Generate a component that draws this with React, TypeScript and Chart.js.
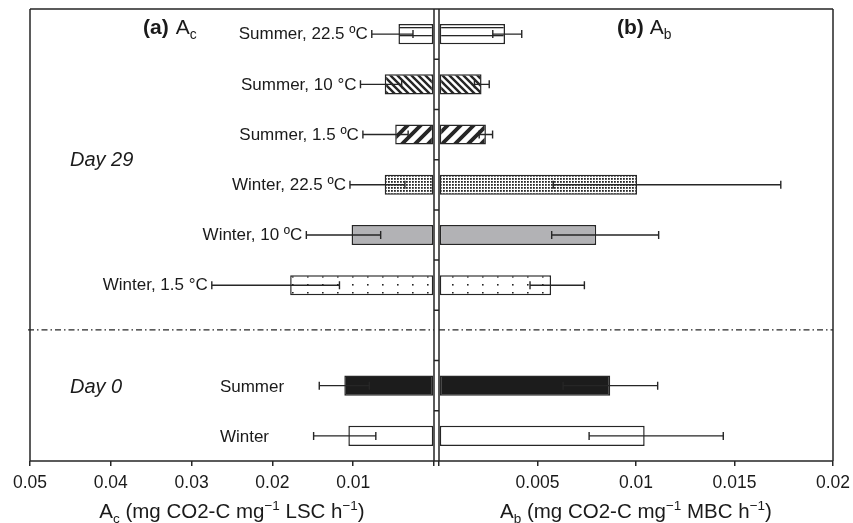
import React, { useEffect, useRef } from 'react';
import { Chart, registerables } from 'chart.js';

Chart.register(...registerables);

// ---------------- data ----------------
const categories = [
  'Summer, 22.5 ºC',
  'Summer, 10 °C',
  'Summer, 1.5 ºC',
  'Winter, 22.5 ºC',
  'Winter, 10 ºC',
  'Winter, 1.5 °C',
  '',
  'Summer',
  'Winter',
];
const dayLabels = ['Day 29', 'Day 0'];

// (a) Ac, mg CO2-C mg-1 LSC h-1
const acValues = [0.0044, 0.0061, 0.0048, 0.0061, 0.0102, 0.0178, null, 0.0111, 0.0106];
const acErrLow = [0.0026, 0.004, 0.0032, 0.0036, 0.0066, 0.0117, null, 0.008, 0.0072];
const acErrHigh = [0.0077, 0.0091, 0.0088, 0.0104, 0.0158, 0.0275, null, 0.0142, 0.0149];

// (b) Ab, mg CO2-C mg-1 MBC h-1
const abValues = [0.00335, 0.00216, 0.00238, 0.01005, 0.00798, 0.00569, null, 0.00869, 0.01044];
const abErrLow = [0.00273, 0.0018, 0.00204, 0.0058, 0.00572, 0.00462, null, 0.0063, 0.00762];
const abErrHigh = [0.0042, 0.00255, 0.00272, 0.01735, 0.01115, 0.00738, null, 0.0111, 0.01443];

const acTicks = [0, 0.01, 0.02, 0.03, 0.04, 0.05];
const acTickLabels = ['', '0.01', '0.02', '0.03', '0.04', '0.05'];
const abTicks = [0, 0.005, 0.01, 0.015, 0.02];
const abTickLabels = ['', '0.005', '0.01', '0.015', '0.02'];

// ---------------- styles ----------------
const FONT = "'Liberation Sans', Arial, Helvetica, sans-serif";
const INK = '#262626';
const TEXT = '#1a1a1a';
const fillKinds = ['hlines', 'bdiag', 'fdiag', 'densedots', 'gray', 'sparsedots', 'white', 'black', 'white'];

function makeFill(kind: string): CanvasPattern | string {
  if (kind === 'gray') return '#b2b2b5';
  if (kind === 'black') return '#1c1c1c';
  if (kind === 'white') return '#ffffff';
  const c = document.createElement('canvas');
  const g = c.getContext('2d')!;
  const setSize = (w: number, h: number) => {
    c.width = w;
    c.height = h;
    g.fillStyle = '#fff';
    g.fillRect(0, 0, w, h);
  };
  if (kind === 'hlines') {
    setSize(8, 8);
    g.fillStyle = INK;
    g.fillRect(0, 3, 8, 1.3);
  } else if (kind === 'bdiag') {
    setSize(7, 7);
    g.strokeStyle = INK;
    g.lineWidth = 2.4;
    g.beginPath();
    g.moveTo(-1, -1); g.lineTo(8, 8);
    g.moveTo(-1, 6); g.lineTo(1, 8);
    g.moveTo(6, -1); g.lineTo(8, 1);
    g.stroke();
  } else if (kind === 'fdiag') {
    setSize(13, 13);
    g.strokeStyle = INK;
    g.lineWidth = 3.8;
    g.beginPath();
    g.moveTo(-1, 14); g.lineTo(14, -1);
    g.moveTo(-2, 2); g.lineTo(2, -2);
    g.moveTo(11, 15); g.lineTo(15, 11);
    g.stroke();
  } else if (kind === 'densedots') {
    setSize(3, 3);
    g.fillStyle = INK;
    g.fillRect(1, 1, 1.8, 1.8);
  } else if (kind === 'sparsedots') {
    setSize(15, 8);
    g.fillStyle = INK;
    g.fillRect(7, 4, 1.6, 1.6);
  }
  return g.createPattern(c, 'repeat')!;
}

type Seg = { t: string; k?: 'sub' | 'sup' };

function drawRich(
  ctx: CanvasRenderingContext2D,
  segs: Seg[],
  x: number,
  y: number,
  size: number,
  align: 'left' | 'center',
  weight = 'normal'
) {
  const fontFor = (k?: string) => `${weight} ${k ? size * 0.66 : size}px ${FONT}`;
  const widths = segs.map((s) => {
    ctx.font = fontFor(s.k);
    return ctx.measureText(s.t).width;
  });
  const total = widths.reduce((a, b) => a + b, 0);
  let cx = align === 'center' ? x - total / 2 : x;
  ctx.textAlign = 'left';
  ctx.textBaseline = 'alphabetic';
  segs.forEach((s, i) => {
    ctx.font = fontFor(s.k);
    const dy = s.k === 'sub' ? size * 0.22 : s.k === 'sup' ? -size * 0.4 : 0;
    ctx.fillText(s.t, cx, y + dy);
    cx += widths[i];
  });
  return cx;
}

function buildConfig(isLeft: boolean, fills: (CanvasPattern | string)[]): any {
  const values = isLeft ? acValues : abValues;
  const lo = isLeft ? acErrLow : abErrLow;
  const hi = isLeft ? acErrHigh : abErrHigh;
  const tickVals = isLeft ? acTicks : abTicks;
  const tickText = isLeft ? acTickLabels : abTickLabels;

  const panelPlugin = {
    id: isLeft ? 'panelLeft' : 'panelRight',
    afterDatasetsDraw(chart: any) {
      const ctx: CanvasRenderingContext2D = chart.ctx;
      const xs = chart.scales.x;
      const meta = chart.getDatasetMeta(0);
      ctx.save();
      ctx.strokeStyle = INK;
      ctx.lineWidth = 1.4;
      values.forEach((v, i) => {
        if (v == null || lo[i] == null || hi[i] == null) return;
        const y = meta.data[i].y;
        const x1 = xs.getPixelForValue(lo[i] as number);
        const x2 = xs.getPixelForValue(hi[i] as number);
        ctx.beginPath();
        ctx.moveTo(x1, y); ctx.lineTo(x2, y);
        ctx.moveTo(x1, y - 4); ctx.lineTo(x1, y + 4);
        ctx.moveTo(x2, y - 4); ctx.lineTo(x2, y + 4);
        ctx.stroke();
      });
      ctx.restore();
    },
    afterDraw(chart: any) {
      const ctx: CanvasRenderingContext2D = chart.ctx;
      const a = chart.chartArea;
      const xs = chart.scales.x;
      const ys = chart.scales.y;
      ctx.save();
      // frame
      ctx.strokeStyle = INK;
      ctx.lineWidth = 1.5;
      const ext = isLeft ? 5 : 0;
      ctx.beginPath();
      ctx.moveTo(a.left, a.top); ctx.lineTo(a.right + ext, a.top);
      ctx.moveTo(a.left, a.bottom); ctx.lineTo(a.right + ext, a.bottom);
      ctx.moveTo(a.left, a.top); ctx.lineTo(a.left, a.bottom);
      ctx.moveTo(a.right, a.top); ctx.lineTo(a.right, a.bottom);
      ctx.stroke();
      // central ticks between the panels
      if (isLeft) {
        ctx.beginPath();
        for (let i = 1; i < categories.length; i++) {
          const y = (ys.getPixelForValue(i - 1) + ys.getPixelForValue(i)) / 2;
          ctx.moveTo(a.right, y); ctx.lineTo(a.right + 5, y);
        }
        ctx.stroke();
      }
      // dash-dot separator
      const gapIdx = categories.indexOf('');
      const yGap = ys.getPixelForValue(gapIdx) - 5.5;
      ctx.lineWidth = 1.2;
      ctx.setLineDash([6, 3, 1.5, 3]);
      ctx.beginPath();
      ctx.moveTo(isLeft ? a.left - 2 : a.left, yGap);
      ctx.lineTo(a.right, yGap);
      ctx.stroke();
      ctx.setLineDash([]);

      ctx.fillStyle = TEXT;
      if (isLeft) {
        // category labels
        ctx.font = `17px ${FONT}`;
        ctx.textBaseline = 'middle';
        const meta = chart.getDatasetMeta(0);
        categories.forEach((c, i) => {
          if (!c) return;
          const y = meta.data[i].y;
          if (i < gapIdx) {
            ctx.textAlign = 'right';
            ctx.fillText(c, xs.getPixelForValue(hi[i] as number) - 4, y + 0.5);
          } else {
            ctx.textAlign = 'left';
            ctx.fillText(c, xs.getPixelForValue(0.0265), y + 1.5);
          }
        });
        // day labels
        ctx.font = `italic 20px ${FONT}`;
        ctx.textAlign = 'left';
        ctx.fillText(dayLabels[0], a.left + 40, (ys.getPixelForValue(2) + ys.getPixelForValue(3)) / 2 + 1);
        ctx.fillText(dayLabels[1], a.left + 40, ys.getPixelForValue(gapIdx + 1) + 1.5);
        // panel label
        const ex = drawRich(ctx, [{ t: '(a)' }], a.left + 113, 34, 21, 'left', 'bold');
        drawRich(ctx, [{ t: 'A' }, { t: 'c', k: 'sub' }], ex + 7, 34, 21, 'left');
        // axis title
        drawRich(
          ctx,
          [{ t: 'A' }, { t: 'c', k: 'sub' }, { t: ' (mg CO2-C mg' }, { t: '−1', k: 'sup' }, { t: ' LSC h' }, { t: '−1', k: 'sup' }, { t: ')' }],
          (a.left + a.right) / 2,
          518,
          20.5,
          'center'
        );
      } else {
        const ex = drawRich(ctx, [{ t: '(b)' }], a.left + 178, 34, 21, 'left', 'bold');
        drawRich(ctx, [{ t: 'A' }, { t: 'b', k: 'sub' }], ex + 6, 34, 21, 'left');
        drawRich(
          ctx,
          [{ t: 'A' }, { t: 'b', k: 'sub' }, { t: ' (mg CO2-C mg' }, { t: '−1', k: 'sup' }, { t: ' MBC h' }, { t: '−1', k: 'sup' }, { t: ')' }],
          (a.left + a.right) / 2,
          518,
          20.5,
          'center'
        );
      }
      ctx.restore();
    },
  };

  return {
    type: 'bar',
    data: {
      labels: categories,
      datasets: [
        {
          data: values,
          backgroundColor: fills,
          borderColor: INK,
          borderWidth: 1.5,
          borderSkipped: false,
          barPercentage: 0.4,
          categoryPercentage: 1,
        },
      ],
    },
    options: {
      indexAxis: 'y',
      responsive: false,
      animation: false,
      events: [],
      layout: {
        padding: isLeft ? { left: 30, right: 11, top: 9, bottom: 0 } : { left: 9, right: 20, top: 9, bottom: 0 },
      },
      plugins: { legend: { display: false }, tooltip: { enabled: false } },
      scales: {
        y: { display: false },
        x: {
          type: 'linear',
          min: 0,
          max: isLeft ? 0.05 : 0.02,
          reverse: isLeft,
          afterFit: (s: any) => {
            s.height = 62;
          },
          afterBuildTicks: (s: any) => {
            s.ticks = tickVals.map((v) => ({ value: v }));
          },
          ticks: {
            autoSkip: false,
            maxRotation: 0,
            font: { family: FONT, size: 17.5, lineHeight: 1.95 },
            color: TEXT,
            padding: 0,
            callback: (v: number) => {
              const idx = tickVals.findIndex((t) => Math.abs(t - v) < 1e-9);
              return idx >= 0 ? tickText[idx] : '';
            },
          },
          grid: { drawOnChartArea: false, drawTicks: true, tickLength: 5, color: INK, lineWidth: 1.5 },
          border: { display: false },
        },
      },
    },
    plugins: [panelPlugin],
  };
}

export default function App() {
  const leftRef = useRef<HTMLCanvasElement>(null);
  const rightRef = useRef<HTMLCanvasElement>(null);

  useEffect(() => {
    const fills = fillKinds.map(makeFill);
    const left = new Chart(leftRef.current!, buildConfig(true, fills));
    const right = new Chart(rightRef.current!, buildConfig(false, fills));
    return () => {
      left.destroy();
      right.destroy();
    };
  }, []);

  return (
    <div style={{ position: 'absolute', left: 0, top: 0, width: 853, height: 523, background: '#fff' }}>
      <canvas ref={leftRef} width={445} height={523} style={{ position: 'absolute', left: 0, top: 0 }} />
      <canvas ref={rightRef} width={423} height={523} style={{ position: 'absolute', left: 430, top: 0 }} />
    </div>
  );
}
